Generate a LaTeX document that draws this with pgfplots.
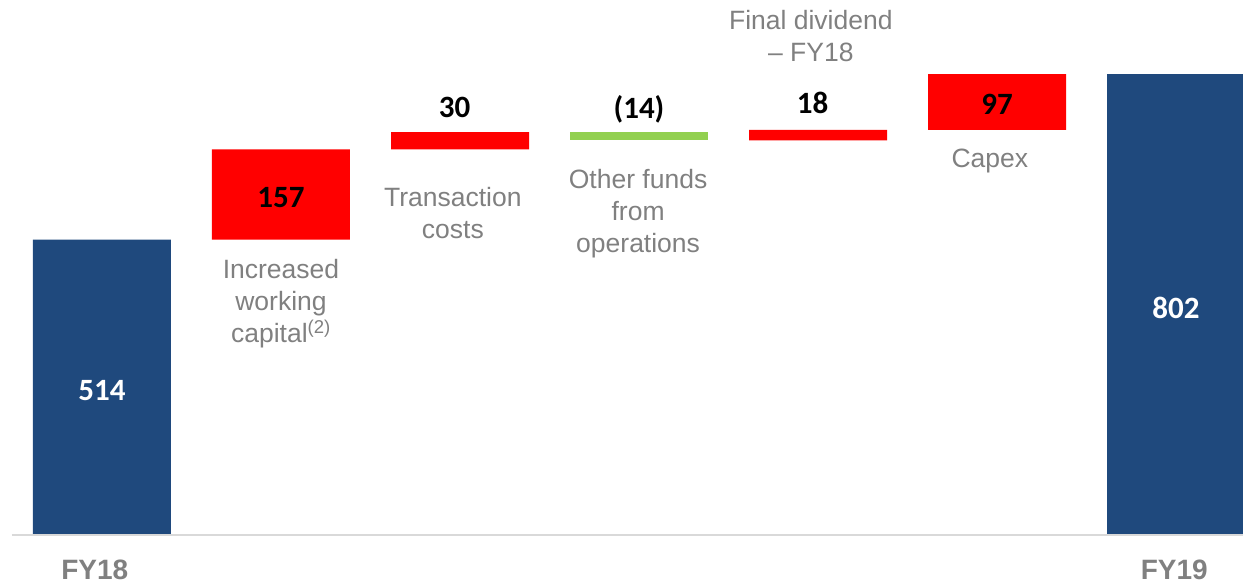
\documentclass[border=0pt]{standalone}
\usepackage{pgfplots}
\pgfplotsset{compat=1.18}
\usepackage{fontspec}
\setmainfont{Liberation Sans}
\newfontfamily\carlito{Carlito}
\definecolor{navy}{RGB}{31,73,125}
\definecolor{wred}{RGB}{255,0,0}
\definecolor{wgreen}{RGB}{146,208,80}
\definecolor{lbl}{RGB}{128,128,128}
\definecolor{baseln}{RGB}{217,217,217}
\newcommand\catf{\fontsize{26.5}{32}\selectfont}
\newcommand\valf{\carlito\bfseries\fontsize{31}{36}\selectfont}
\newcommand\fyf{\bfseries\fontsize{28}{34}\selectfont}
\begin{document}
\begin{tikzpicture}
\path[use as bounding box] (0,0) rectangle (1243pt,585pt);
\begin{axis}[at={(0,0)}, anchor=south west, scale only axis,
  width=1243pt, height=585pt,
  xmin=-0.5698, xmax=6.3743, ymin=-87.1, ymax=931.2,
  hide axis, clip=false, ybar stacked, bar width=138pt]
\draw[baseln, line width=2pt] (axis cs:-0.503,0) -- (axis cs:6.374,0);
\addplot[draw=none, fill=none] coordinates {(0,0)(1,514)(2,671)(3,687)(4,687)(5,705)(6,0)};
\addplot[draw=none, fill=navy] coordinates {(0,514)(1,0)(2,0)(3,0)(4,0)(5,0)(6,802)};
\addplot[draw=none, fill=wred] coordinates {(0,0)(1,157)(2,30)(3,0)(4,18)(5,97)(6,0)};
\addplot[draw=none, fill=wgreen] coordinates {(0,0)(1,0)(2,0)(3,14)(4,0)(5,0)(6,0)};
% value positions
\coordinate (v0) at (axis cs:0,252);
\coordinate (v1) at (axis cs:1,587);
\coordinate (v2) at (axis cs:1.97,745);
\coordinate (v3) at (axis cs:3,740);
\coordinate (v4) at (axis cs:3.97,752);
\coordinate (v5) at (axis cs:5,750);
\coordinate (v6) at (axis cs:6,396);
% categories
\node[lbl, font=\catf, align=center] at (axis cs:1,402) {Increased\\working\\capital\textsuperscript{(2)}};
\node[lbl, font=\catf, align=center] at (axis cs:1.96,561) {Transaction\\costs};
\node[lbl, font=\catf, align=center] at (axis cs:2.995,559) {Other funds\\from\\operations};
\node[lbl, font=\catf, align=center] at (axis cs:3.96,868) {Final dividend\\– FY18};
\node[lbl, font=\catf, align=center] at (axis cs:4.96,651) {Capex};
\node[lbl, font=\fyf] at (axis cs:-0.04,-61) {FY18};
\node[lbl, font=\fyf] at (axis cs:5.99,-61) {FY19};
\end{axis}
\node[white, font=\valf] at (v0) {514};
\node[black, font=\valf] at (v1) {157};
\node[black, font=\valf] at (v2) {30};
\node[black, font=\valf] at (v3) {(14)};
\node[black, font=\valf] at (v4) {18};
\node[black, font=\valf] at (v5) {97};
\node[white, font=\valf] at (v6) {802};
\end{tikzpicture}
\end{document}
